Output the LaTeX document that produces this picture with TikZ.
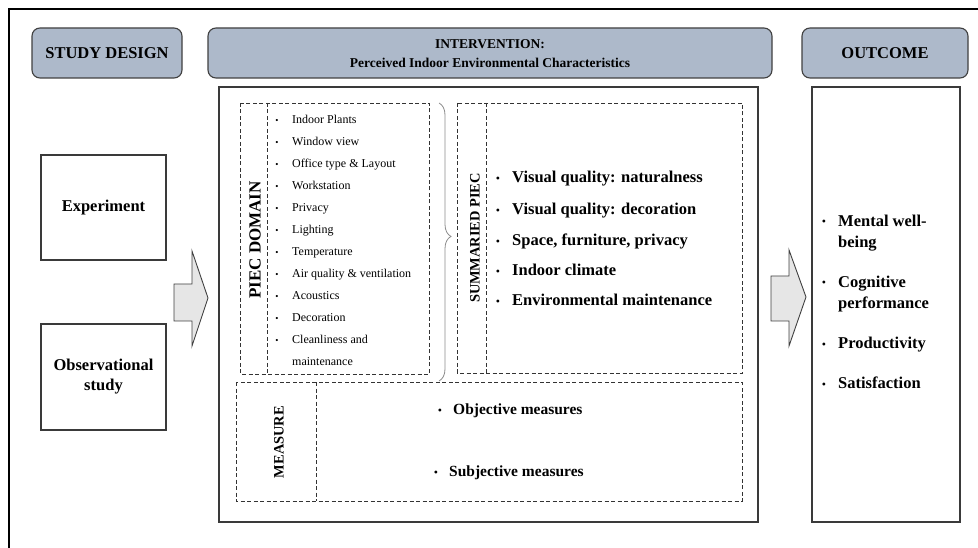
\documentclass[tikz,border=0pt]{standalone}
\usepackage{fontspec}
\setmainfont{Liberation Serif}
\usetikzlibrary{decorations.pathreplacing}
\definecolor{hdrfill}{HTML}{ADB9CA}
\definecolor{hdrdraw}{HTML}{404040}
\definecolor{boxdraw}{HTML}{3A3A3A}
\definecolor{arrfill}{HTML}{E6E6E6}
\definecolor{dashcol}{HTML}{333333}
\definecolor{bracecol}{HTML}{8C8C8C}
\newcommand{\setfs}[1]{\fontsize{#1}{#1}\selectfont}
\tikzset{
  hdr/.style={draw=hdrdraw, fill=hdrfill, line width=1.1pt, rounded corners=8pt, inner sep=0pt},
  solidbox/.style={draw=boxdraw, line width=1.1pt, inner sep=0pt},
  dashbox/.style={draw=dashcol, line width=0.8pt, dash pattern=on 4pt off 2.5pt},
  blockarrow/.style={draw=hdrdraw, fill=arrfill, line width=0.9pt, line join=miter},
  txt/.style={inner sep=0pt, anchor=mid west},
  smallitem/.style={txt, font=\setfs{12}},
  bigitem/.style={txt, font=\setfs{16.5}\bfseries},
  outitem/.style={txt, font=\fontsize{16.5}{20.5}\selectfont\bfseries, align=left},
  bul/.style={inner sep=0pt, anchor=center},
}
\begin{document}
\begin{tikzpicture}[x=1pt,y=-1pt]
\useasboundingbox (0,0) rectangle (978,548);
% outer frame edges
\draw[line width=2.5pt, black] (9,548) -- (9,9) -- (978,9);

% headers
\node[hdr, minimum width=150pt, minimum height=50pt, font=\setfs{16.5}\bfseries] (sd) at (107,53) {STUDY DESIGN};
\node[hdr, minimum width=564pt, minimum height=50pt] (ih) at (490,53) {};
\node[inner sep=0pt, font=\setfs{13.5}\bfseries] (iht1) at (490,44) {INTERVENTION:};
\node[inner sep=0pt, font=\setfs{13.5}\bfseries] (iht2) at (490,63) {Perceived Indoor Environmental Characteristics};
\node[hdr, minimum width=166pt, minimum height=50pt, font=\setfs{16.5}\bfseries] (oh) at (885,53) {OUTCOME};

% main boxes
\node[solidbox, minimum width=539pt, minimum height=435pt] (intv) at (488.5,304.5) {};
\node[solidbox, minimum width=148pt, minimum height=435pt] (outb) at (886,304.5) {};

% study design boxes
\node[solidbox, minimum width=125pt, minimum height=105pt, font=\setfs{16.5}\bfseries] (exp) at (103.5,207.5) {Experiment};
\node[solidbox, minimum width=125pt, minimum height=106pt, font=\fontsize{16.5}{20}\selectfont\bfseries, align=center] (obs) at (103.5,377) {Observational\\study};

% block arrows
\draw[blockarrow] (174,284) -- (192,284) -- (192,251) -- (208,298) -- (192,346) -- (192,321) -- (174,321) -- cycle;
\draw[blockarrow] (771,276) -- (789,276) -- (789,250) -- (806,297) -- (789,346) -- (789,321) -- (771,321) -- cycle;

% PIEC DOMAIN box
\draw[dashbox] (240,103) rectangle (429,374);
\draw[dashbox] (267,103) -- (267,374);
\node[inner sep=0pt, rotate=90, font=\setfs{17}\bfseries] (pd) at (255,240) {PIEC DOMAIN};
\foreach \t [count=\i] in {Indoor Plants, Window view, Office type \& Layout, Workstation, Privacy, Lighting, Temperature, Air quality \& ventilation, Acoustics, Decoration, Cleanliness and}{
  \node[bul, font=\setfs{9}] (pb\i) at (277,{121+22*(\i-1)}) {\textbullet};
  \node[smallitem] (pi\i) at (292,{121+22*(\i-1)}) {\t};
}
\node[smallitem] (pi12) at (292,363) {maintenance};

% brace
\draw[bracecol, line width=0.8pt, decorate, decoration={brace, amplitude=12pt, aspect=0.48}] (439,103) -- (439,381);

% SUMMARIED PIEC box
\draw[dashbox] (457,103) rectangle (742,373);
\draw[dashbox] (486,103) -- (486,373);
\node[inner sep=0pt, rotate=90, font=\setfs{14.4}\bfseries] (sp) at (475,238) {SUMMARIED PIEC};
\foreach \t/\y [count=\i] in {Visual quality: naturalness/180, Visual quality: decoration/212, {Space, furniture, privacy}/243, Indoor climate/273, Environmental maintenance/303}{
  \node[bul, font=\setfs{12}] (sb\i) at (498,\y) {\textbullet};
  \node[bigitem] (si\i) at (512,\y) {\t};
}

% MEASURE box
\draw[dashbox] (236,382) rectangle (742,501);
\draw[dashbox] (316,382) -- (316,501);
\node[inner sep=0pt, rotate=90, font=\setfs{14.4}\bfseries] (ms) at (279,442) {MEASURE};
\node[bul, font=\setfs{12}] (mb1) at (440,412) {\textbullet};
\node[txt, font=\setfs{15.5}\bfseries] (mi1) at (453,412) {Objective measures};
\node[bul, font=\setfs{12}] (mb2) at (436,474) {\textbullet};
\node[txt, font=\setfs{15.5}\bfseries] (mi2) at (449,474) {Subjective measures};

% outcome items
\node[bul, font=\setfs{12}] (ob1) at (824,223) {\textbullet};
\node[outitem, anchor=north west] (oi1) at (838,215) {Mental well-\\being};
\node[bul, font=\setfs{12}] (ob2) at (824,284) {\textbullet};
\node[outitem, anchor=north west] (oi2) at (838,276) {Cognitive\\performance};
\node[bul, font=\setfs{12}] (ob3) at (824,346) {\textbullet};
\node[bigitem] (oi3) at (838,346) {Productivity};
\node[bul, font=\setfs{12}] (ob4) at (824,386) {\textbullet};
\node[bigitem] (oi4) at (838,386) {Satisfaction};
\end{tikzpicture}
\end{document}
